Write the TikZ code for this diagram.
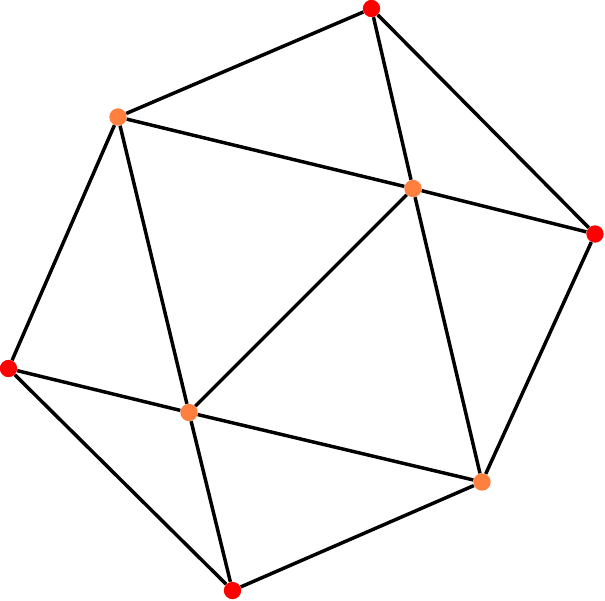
\documentclass[tikz,border=0pt]{standalone}
\usepackage{xcolor}
\usepackage{tikz}
\usetikzlibrary{positioning,calc}
\definecolor{vred}{RGB}{255,0,0}
\definecolor{vorange}{RGB}{255,127,63}

\begin{document}
\begin{tikzpicture}[x=0.75pt,y=-0.75pt,
    outer vertex/.style={circle, fill=vred, inner sep=0pt, minimum size=13pt},
    inner vertex/.style={circle, fill=vorange, inner sep=0pt, minimum size=13pt},
    edge/.style={draw=black, line width=2.6pt}]
    \useasboundingbox (0,0) rectangle (605,600);

    % Outer (red) vertices
    \node[outer vertex] (top) at (371.5,8.5) {};
    \node[outer vertex] (right) at (595,234) {};
    \node[outer vertex] (left) at (8.5,368.5) {};
    \node[outer vertex] (bottom) at (232.5,590.5) {};

    % Inner (orange) vertices
    \node[inner vertex] (upleft) at (118,117) {};
    \node[inner vertex] (upright) at (413,188.5) {};
    \node[inner vertex] (lowleft) at (189,412.5) {};
    \node[inner vertex] (lowright) at (482,482) {};

    % Edges
    \draw[edge] (top) -- (upleft);
    \draw[edge] (top) -- (upright);
    \draw[edge] (top) -- (right);
    \draw[edge] (upleft) -- (upright);
    \draw[edge] (upright) -- (right);
    \draw[edge] (upleft) -- (left);
    \draw[edge] (upleft) -- (lowleft);
    \draw[edge] (upright) -- (lowleft);
    \draw[edge] (upright) -- (lowright);
    \draw[edge] (right) -- (lowright);
    \draw[edge] (left) -- (lowleft);
    \draw[edge] (left) -- (bottom);
    \draw[edge] (lowleft) -- (bottom);
    \draw[edge] (lowleft) -- (lowright);
    \draw[edge] (bottom) -- (lowright);

\end{tikzpicture}
\end{document}
